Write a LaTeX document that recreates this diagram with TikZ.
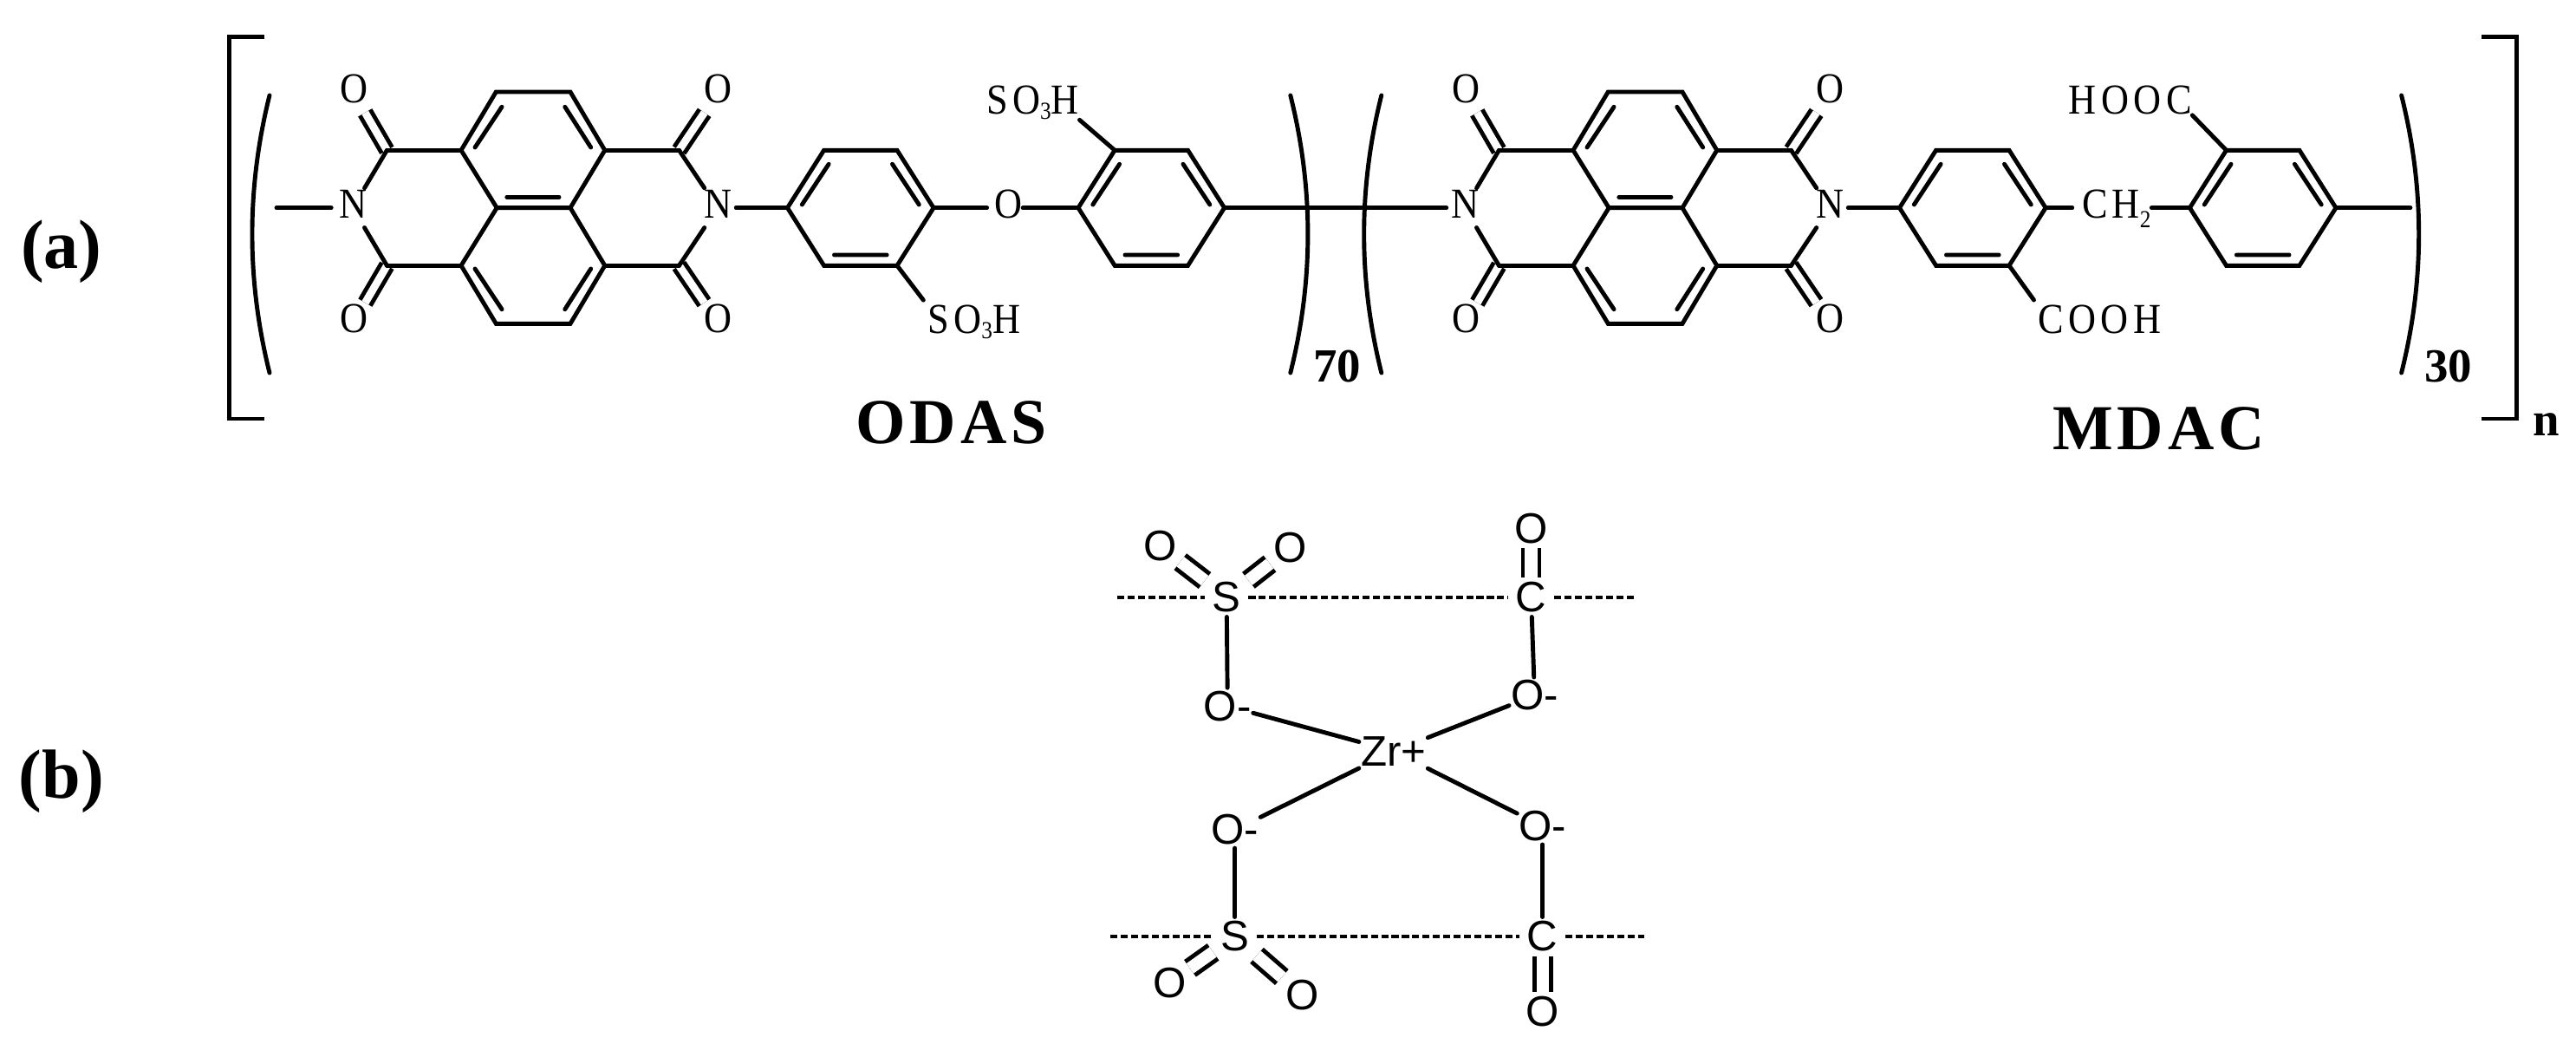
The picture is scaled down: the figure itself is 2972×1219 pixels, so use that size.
\documentclass[tikz,border=0pt]{standalone}
\usepackage{fontspec}
\setmainfont{Liberation Serif}
\setsansfont{Liberation Sans}
\newfontfamily\atomfont{Liberation Serif}[FakeStretch=0.9]
\newfontfamily\spacedfont{Liberation Serif}[LetterSpace=7]
\newfontfamily\groupfont{Liberation Serif}[FakeStretch=0.9,LetterSpace=11]
\newcommand{\subnum}[2][1.6pt]{\raisebox{-#1}{\fontsize{8pt}{8pt}\selectfont #2}}
\tikzset{
	bond/.style={line width=1.4pt,line cap=round,line join=miter},
	dbond/.style={line width=1.4pt,line cap=butt,double,double distance=2.5pt},
	atom/.style={font=\fontsize{14pt}{16pt}\atomfont,inner xsep=1.3pt,inner ysep=0.6pt,text height=9.1pt,text depth=2.3pt},
	grouplabel/.style={font=\fontsize{14pt}{16pt}\groupfont,inner sep=0pt},
	unitlabel/.style={font=\fontsize{21pt}{24pt}\spacedfont\bfseries,inner sep=0pt,anchor=base},
	countlabel/.style={font=\fontsize{15.6pt}{18pt}\selectfont\bfseries,inner sep=0pt,anchor=base},
	partlabel/.style={font=\fontsize{22.8pt}{26pt}\selectfont\bfseries,inner sep=0pt,anchor=base},
	link/.style={line width=1.4pt,line cap=round},
	dlink/.style={line width=1.4pt,line cap=butt,double,double distance=4pt},
	dotlink/.style={line width=1.4pt,dash pattern=on 2.3pt off 1.1pt},
	satom/.style={font=\fontsize{14pt}{16pt}\sffamily,inner xsep=2.3pt,inner ysep=1.4pt,text height=9.6pt,text depth=0pt},
	oion/.style={font=\fontsize{14pt}{16pt}\sffamily,inner xsep=0.4pt,inner ysep=1pt,text height=9.6pt,text depth=0pt}
}
\begin{document}
\begin{tikzpicture}[x=0.01cm,y=-0.01cm]
	\useasboundingbox (0,0) rectangle (2972,1219);
	\node[partlabel] (parta) at (70.9,309.5) {(a)};
	\node[partlabel] (partb) at (70.8,921) {(b)};
	% outer brackets and round brackets
	\draw[bond,line cap=butt] (304.5,42.7)--(264.7,42.7)--(264.7,483)--(304.5,483);
	\draw[bond,line cap=butt] (2862.8,42.7)--(2903.5,42.7)--(2903.5,483)--(2862.8,483);
	\foreach \tx/\cx in {311/284.3,1488.8/1515.6,1593.8/1567,2770.6/2797.4}
		\draw[bond] (\tx,110) .. controls (\cx,217) and (\cx,323) .. (\tx,430);
	% imide units
	\foreach \u/\dx in {a/0,b/1283}{
		\begin{scope}[shift={(\dx,0)}]
			\node[atom] (Nl\u) at (407,239.7) {N};
			\node[atom] (Nr\u) at (828,239.7) {N};
			\node[atom] (Otl\u) at (408,107) {O};
			\node[atom] (Otr\u) at (828,107) {O};
			\node[atom] (Obl\u) at (408,372) {O};
			\node[atom] (Obr\u) at (828,372) {O};
			\coordinate (C1\u) at (446.4,173.3);
			\coordinate (C2\u) at (783.5,173.3);
			\coordinate (C3\u) at (446.4,306.3);
			\coordinate (C4\u) at (783.5,306.3);
			\coordinate (v1\u) at (532,173.3);
			\coordinate (v2\u) at (572.3,106);
			\coordinate (v3\u) at (658,106);
			\coordinate (v4\u) at (697.8,173.3);
			\coordinate (v5\u) at (658,239.7);
			\coordinate (v6\u) at (573.2,239.7);
			\coordinate (v7\u) at (532,306.3);
			\coordinate (v8\u) at (572.3,373.3);
			\coordinate (v9\u) at (658,373.3);
			\coordinate (v10\u) at (697.8,306.3);
			\draw[dbond] (C1\u)--(Otl\u);
			\draw[dbond] (C2\u)--(Otr\u);
			\draw[dbond] (C3\u)--(Obl\u);
			\draw[dbond] (C4\u)--(Obr\u);
			\draw[bond] (v1\u)--(v2\u)--(v3\u)--(v4\u)--(v5\u)--(v6\u)--cycle;
			\draw[bond] (v6\u)--(v7\u)--(v8\u)--(v9\u)--(v10\u)--(v5\u);
			\draw[bond] (C1\u)--(v1\u) (v4\u)--(C2\u) (C3\u)--(v7\u) (v10\u)--(C4\u);
			\draw[bond] (Nl\u)--(C1\u) (Nl\u)--(C3\u) (Nr\u)--(C2\u) (Nr\u)--(C4\u);
			\draw[bond] (548,170)--(579,123.3) (651.8,123.3)--(681.7,170);
			\draw[bond] (548,310)--(579,356.7) (651.8,356.7)--(681.7,310);
			\draw[bond] (584.8,227.3)--(645,227.3);
		\end{scope}
	}
	% benzene rings
	\foreach \rg/\cx in {ra/992.8,rb/1328.3,rc/2275.8,rd/2610.7}{
		\begin{scope}[shift={(\cx,0)}]
			\coordinate (\rg1) at (-84.3,239.7);
			\coordinate (\rg2) at (-42.2,173.3);
			\coordinate (\rg3) at (42.2,173.3);
			\coordinate (\rg4) at (84.3,239.7);
			\coordinate (\rg5) at (42.2,306.3);
			\coordinate (\rg6) at (-42.2,306.3);
			\draw[bond] (\rg1)--(\rg2)--(\rg3)--(\rg4)--(\rg5)--(\rg6)--cycle;
			\draw[bond] (-36.7,189.3)--(-67.5,236) (36.7,189.3)--(67.5,236) (-30.3,294)--(30.3,294);
		\end{scope}
	}
	% links between the rings
	\node[atom] (Obr) at (1163.4,239.7) {O};
	\node[grouplabel,anchor=base] (ch2) at (2441.8,251.7) {CH\subnum[3.1pt]{2}};
	\coordinate (stubl) at (319,239.7);
	\coordinate (stubr) at (2780.9,239.7);
	\draw[bond,shorten >=1pt] (stubl)--(Nla);
	\draw[bond] (Nra)--(ra1);
	\draw[bond,shorten >=1pt] (ra4)--(Obr);
	\draw[bond,shorten <=-1.3pt] (Obr)--(rb1);
	\draw[bond] (rb4)--(Nlb);
	\draw[bond] (Nrb)--(rc1);
	\draw[bond,shorten >=3pt] (rc4)--(ch2.west |- rc4);
	\draw[bond] (ch2.east |- rd1)--(rd1);
	\draw[bond] (rd4)--(stubr);
	% side groups
	\node[grouplabel,anchor=base east] (so3t) at (1245.5,131.7) {SO\subnum{3}H};
	\node[grouplabel,anchor=base west] (so3b) at (1069.6,385) {SO\subnum{3}H};
	\node[grouplabel,anchor=base east] (hooc) at (2529.3,131.7) {HOOC};
	\node[grouplabel,anchor=base west] (cooh) at (2350.6,385) {COOH};
	\draw[bond] (rb2)--(so3t.south east);
	\draw[bond,shorten >=2pt] (ra5)--(so3b.north west);
	\draw[bond] (rd2)--(hooc.south east);
	\draw[bond,shorten >=2pt] (rc5)--(cooh.north west);
	\node[unitlabel] (odas) at (1097.5,511.7) {ODAS};
	\node[unitlabel] (mdac) at (2490.7,518.3) {MDAC};
	\node[countlabel] (n70) at (1542.6,441) {70};
	\node[countlabel] (n30) at (2824.6,441) {30};
	\node[countlabel] (npoly) at (2937.5,503) {n};
	% part b
	\node[satom] (S1) at (1415.2,689) {S};
	\node[satom] (C5) at (1766.5,689) {C};
	\node[satom] (S2) at (1424.8,1080) {S};
	\node[satom] (C6) at (1779.7,1080) {C};
	\node[satom,inner xsep=1pt] (O1) at (1338.4,629.7) {O};
	\node[satom,inner xsep=1pt] (O2) at (1488.4,631.8) {O};
	\node[satom] (O3) at (1766.5,609.3) {O};
	\node[satom,inner xsep=1pt] (O4) at (1349.6,1133.4) {O};
	\node[satom,inner xsep=1pt] (O5) at (1502.2,1147.3) {O};
	\node[satom] (O6) at (1779.7,1166.8) {O};
	\node[oion] (Oa) at (1416.3,814.3) {O-};
	\node[oion] (Ob) at (1770.5,802.1) {O-};
	\node[oion] (Oc) at (1424.8,957) {O-};
	\node[oion] (Od) at (1779.7,952.9) {O-};
	\node[oion] (Zr) at (1607.6,866.3) {Zr+};
	\coordinate (d1) at (1289.3,689);
	\coordinate (d2) at (1886.2,689);
	\coordinate (d3) at (1281.3,1080);
	\coordinate (d4) at (1897.3,1080);
	\draw[dotlink] (d1)--(S1)--(C5)--(d2);
	\draw[dotlink] (d3)--(S2)--(C6)--(d4);
	\draw[dlink] (S1)--(O1);
	\draw[dlink] (S1)--(O2);
	\draw[dlink] (C5)--(O3);
	\draw[dlink] (S2)--(O4);
	\draw[dlink] (S2)--(O5);
	\draw[dlink] (C6)--(O6);
	\draw[link] (S1)--(Oa);
	\draw[link] (C5)--(Ob);
	\draw[link] (Oc)--(S2);
	\draw[link] (Od)--(C6);
	\draw[link] (Oa)--(Zr);
	\draw[link] (Ob)--(Zr);
	\draw[link] (Oc)--(Zr);
	\draw[link] (Od)--(Zr);
\end{tikzpicture}
\end{document}
